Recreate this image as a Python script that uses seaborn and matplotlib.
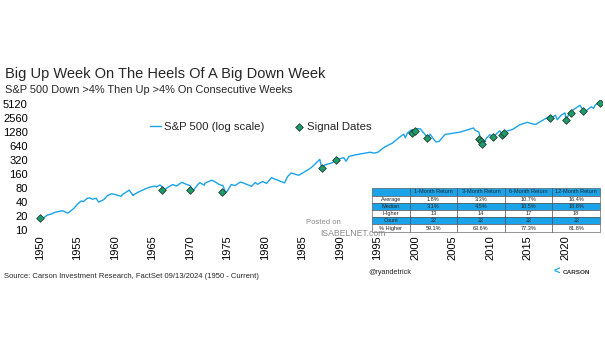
import matplotlib
matplotlib.use("Agg")
import matplotlib.pyplot as plt
import seaborn as sns
import pandas as pd
import numpy as np

# ---- data ----
sp_years = [1950.0, 1950.5, 1951.0, 1951.5, 1952.0, 1952.5, 1953.0, 1953.7, 1954.0, 1954.5,
            1955.0, 1955.5, 1955.8, 1956.3, 1956.6, 1957.0, 1957.5, 1957.8, 1958.0, 1958.5,
            1959.0, 1959.5, 1960.0, 1960.8, 1961.0, 1961.9, 1962.4, 1962.5, 1963.0, 1963.5,
            1964.0, 1964.5, 1965.0, 1965.4, 1965.5, 1966.0, 1966.7, 1967.0, 1967.7, 1968.2,
            1968.9, 1969.5, 1970.0, 1970.4, 1971.0, 1971.3, 1971.9, 1972.0, 1972.9, 1973.5,
            1973.9, 1974.4, 1974.75, 1975.0, 1975.5, 1976.0, 1976.7, 1977.0, 1978.2, 1978.7,
            1979.0, 1979.7, 1980.2, 1980.9, 1981.0, 1982.6, 1983.0, 1983.5, 1984.5, 1985.0,
            1986.0, 1986.5, 1987.3, 1987.55, 1988.0, 1989.0, 1989.6, 1990.0, 1990.5, 1990.8,
            1991.2, 1992.0, 1993.0, 1994.0, 1994.5, 1995.0, 1996.0, 1997.0, 1997.8, 1998.5,
            1998.7, 1999.0, 1999.5, 2000.0, 2000.2, 2000.7, 2001.0, 2001.3, 2001.7, 2002.0,
            2002.6, 2002.8, 2003.2, 2004.0, 2005.0, 2006.0, 2007.0, 2007.8, 2008.0, 2008.5,
            2008.8, 2009.1, 2009.5, 2010.0, 2010.5, 2011.3, 2011.7, 2012.0, 2013.0, 2014.0,
            2015.0, 2015.7, 2016.1, 2017.0, 2018.0, 2018.2, 2018.7, 2018.98, 2019.5, 2020.0,
            2020.15, 2020.5, 2021.0, 2022.0, 2022.45, 2022.75, 2023.0, 2023.5, 2023.8, 2024.0,
            2024.3, 2024.55, 2024.7]
sp_values = [17, 18.5, 21, 22, 24, 25, 26, 23, 25, 29,
             36, 42, 41, 48, 49, 46, 48, 40, 41, 45,
             55, 60, 58, 53, 58, 72, 55, 57, 64, 70,
             76, 82, 86, 88, 84, 93, 74, 82, 95, 88,
             106, 96, 90, 70, 93, 104, 92, 102, 118, 105,
             95, 90, 63, 70, 95, 90, 107, 104, 87, 105,
             96, 110, 100, 135, 130, 103, 140, 168, 150, 167,
             210, 245, 330, 224, 250, 280, 350, 340, 360, 300,
             380, 410, 440, 470, 450, 465, 615, 740, 950, 1150,
             960, 1230, 1400, 1460, 1500, 1500, 1300, 1150, 960, 1150,
             850, 780, 800, 1130, 1200, 1270, 1420, 1560, 1400, 1280,
             850, 680, 930, 1120, 1020, 1360, 1120, 1300, 1450, 1840,
             2060, 1900, 1860, 2270, 2830, 2600, 2930, 2350, 2950, 3300,
             2240, 3100, 3750, 4790, 3670, 3580, 3840, 4450, 4120, 4770,
             5250, 5400, 5630]

signal_years = [1950.0, 1966.3, 1970.0, 1974.3, 1987.6, 1989.5, 1999.6, 2000.0, 2001.6,
                2008.6, 2008.8, 2009.0, 2010.4, 2011.6, 2011.9, 2018.0, 2020.1, 2020.8,
                2022.4, 2024.7]
signal_values = [18, 73, 73, 66, 219, 320, 1237, 1366, 964,
                 905, 820, 710, 1014, 1100, 1200, 2522, 2350, 3270,
                 3600, 5290]

y_ticks = [10, 20, 40, 80, 160, 320, 640, 1280, 2560, 5120]
x_ticks = list(range(1950, 2021, 5))

table_cols = ["", "1-Month Return", "3-Month Return", "6-Month Return", "12-Month Return"]
table_rows = ["Average", "Median", "Higher", "Count", "% Higher"]
ret_1m = ["1.8%", "3.1%", "13", "22", "59.1%"]
ret_3m = ["3.3%", "4.5%", "14", "22", "63.6%"]
ret_6m = ["10.7%", "10.5%", "17", "22", "77.3%"]
ret_12m = ["16.4%", "18.8%", "18", "22", "81.8%"]

# ---- style ----
sns.set_theme(style="white")
plt.rcParams["font.family"] = ["Liberation Sans", "DejaVu Sans"]

LINE_C = "#1AA3EC"
MARK_C = "#1E9C6C"
BLUE = "#1AA3E8"

W, H = 605, 341
fig = plt.figure(figsize=(W / 100, H / 100), dpi=100)
fig.patch.set_facecolor("white")

ax_l, ax_r = 34.75, 601.75
ax_t, ax_b = 100.1, 230.0
ax = fig.add_axes([ax_l / W, 1 - ax_b / H, (ax_r - ax_l) / W, (ax_b - ax_t) / H])

df_line = pd.DataFrame({"year": sp_years, "value": sp_values})
df_sig = pd.DataFrame({"year": signal_years, "value": signal_values})

sns.lineplot(data=df_line, x="year", y="value", ax=ax, color=LINE_C, lw=1.0,
             label="S&P 500 (log scale)", legend=False)
sns.scatterplot(data=df_sig, x="year", y="value", ax=ax, marker="D", s=15,
                color=MARK_C, edgecolor="#1F3D2E", linewidth=0.6, zorder=5,
                label="Signal Dates", legend=False)

ax.set_yscale("log", base=2)
ax.set_ylim(10, 6200)
ax.set_xlim(1949.3, 2024.9)
ax.set_yticks(y_ticks)
ax.set_yticklabels([str(v) for v in y_ticks])
ax.minorticks_off()
ax.set_xticks(x_ticks)
ax.set_xticklabels([str(v) for v in x_ticks], rotation=90)
ax.tick_params(axis="both", length=0, labelsize=8.0, colors="black")
ax.tick_params(axis="y", pad=5)
ax.tick_params(axis="x", pad=4)
ax.set_xlabel("")
ax.set_ylabel("")
for s in ax.spines.values():
    s.set_visible(False)
ax.patch.set_alpha(0)

# legend
h, l = ax.get_legend_handles_labels()
fig.legend(h, l, loc="center left", bbox_to_anchor=(150 / W, 1 - 127 / H), ncol=2,
           frameon=False, handlelength=1.0, handletextpad=0.2, columnspacing=2.6,
           borderpad=0, borderaxespad=0, fontsize=8.2)

# titles
fig.text(5 / W, 1 - 74 / H, "Big Up Week On The Heels Of A Big Down Week",
         fontsize=10.5, va="center", ha="left")
fig.text(5 / W, 1 - 90 / H, "S&P 500 Down >4% Then Up >4% On Consecutive Weeks",
         fontsize=7.9, va="center", ha="left")

# footer
fig.text(4 / W, 1 - 276 / H,
         "Source: Carson Investment Research, FactSet 09/13/2024 (1950 - Current)",
         fontsize=5.5, va="center", ha="left")
fig.text(368 / W, 1 - 272 / H, "@ryandetrick", fontsize=5.2, va="center", ha="left")
fig.text(563 / W, 1 - 272 / H, "CARSON", fontsize=4.6, va="center", ha="left",
         color="#333333", fontweight="bold")
fig.text(553 / W, 1 - 272 / H, "<", fontsize=8, va="center", ha="left",
         color=BLUE, fontweight="bold")

# watermark
fig.text(306 / W, 1 - 223 / H, "Posted on", fontsize=5.5, va="center", ha="left",
         color="#8a8a8a")
fig.text(320 / W, 1 - 233 / H, "ISABELNET.com", fontsize=6.2, va="center", ha="left",
         color="#8a8a8a")

# table
tax = fig.add_axes([372 / W, 1 - 231.7 / H, (600 - 372) / W, (231.7 - 188.3) / H])
tax.axis("off")
cell_text = [[table_rows[i], ret_1m[i], ret_3m[i], ret_6m[i], ret_12m[i]]
             for i in range(len(table_rows))]
row_colors = ["white", BLUE, "white", BLUE, "white"]
cell_colours = [[c] * 5 for c in row_colors]
tbl = tax.table(cellText=cell_text, colLabels=table_cols, cellColours=cell_colours,
                colColours=[BLUE] * 5, cellLoc="center", loc="center",
                bbox=[0, 0, 1, 1])
tbl.auto_set_font_size(False)
tbl.set_fontsize(4.0)
colw = [37.6, 47.6, 47.6, 47.6, 47.6]
tot = sum(colw)
for (r, c), cell in tbl.get_celld().items():
    cell.set_width(colw[c] / tot)
    cell.set_edgecolor("#444444")
    cell.set_linewidth(0.4)
    cell.PAD = 0.02

fig.savefig("out.png", dpi=100, facecolor="white")
